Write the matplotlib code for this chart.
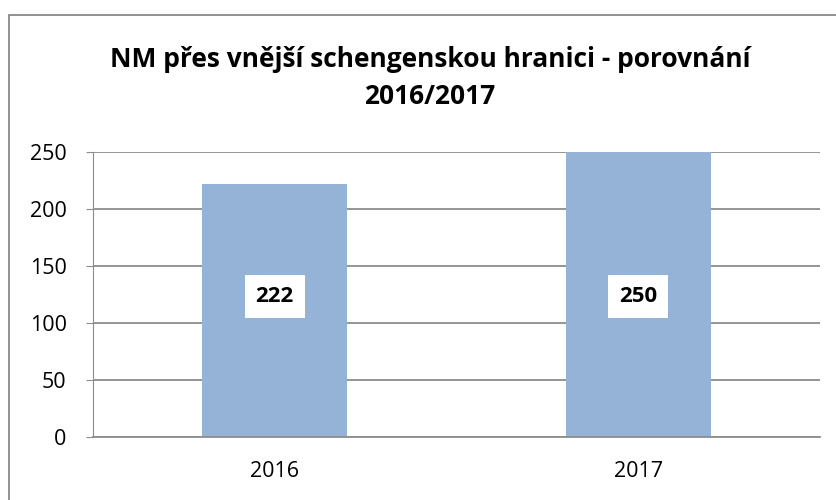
import matplotlib.pyplot as plt
from matplotlib.patches import Rectangle

plt.rcParams['font.family'] = ['Liberation Sans Narrow', 'Open Sans', 'DejaVu Sans']

# ── data ──────────────────────────────────────────────────────────────────────
years = ["2016", "2017"]
counts = [222, 250]
y_ticks = [0, 50, 100, 150, 200, 250]
title = "NM přes vnější schengenskou hranici - porovnání\n2016/2017"

BAR_COLOR = "#95B3D7"
GRID_COLOR = "#8C8C8C"

fig = plt.figure(figsize=(8.37, 5.0), dpi=100)

# outer chart border (Excel style frame)
fig.patches.append(Rectangle((9 / 837, -0.05), 1.0, 1 - 15 / 500 + 0.05,
                             transform=fig.transFigure, fill=False,
                             edgecolor="#7F7F7F", linewidth=1.2))

ax = fig.add_axes([93 / 837, (500 - 437) / 500, (820 - 93) / 837, (437 - 152) / 500])

x = range(len(years))
ax.bar(x, counts, width=0.4, color=BAR_COLOR, zorder=2)

ax.set_xlim(-0.5, 1.5)
ax.set_ylim(0, 250)
ax.set_yticks(y_ticks)
ax.set_xticks(list(x))
ax.set_xticklabels(years)
ax.tick_params(axis="y", labelsize=15.5, length=5, color=GRID_COLOR, pad=14)
ax.tick_params(axis="x", labelsize=15.5, length=0, pad=17)

ax.grid(True, axis="y", color=GRID_COLOR, linewidth=1.3, zorder=1)
ax.set_axisbelow(True)
for side in ["top", "right"]:
    ax.spines[side].set_visible(False)
ax.spines["left"].set_color(GRID_COLOR)
ax.spines["bottom"].set_color(GRID_COLOR)
ax.spines["bottom"].set_linewidth(1.3)

# value labels in white boxes, Excel puts them mid-height
for xi, val in zip(x, counts):
    ax.text(xi, 123, str(val), ha="center", va="center", fontsize=16,
            fontweight="bold", zorder=3,
            bbox=dict(facecolor="white", edgecolor="none", pad=8))

fig.text(430 / 837, 1 - 78 / 500, title, ha="center", va="center",
         fontsize=19, fontweight="bold", linespacing=1.45)

plt.savefig("out.png", dpi=100)
plt.close()
